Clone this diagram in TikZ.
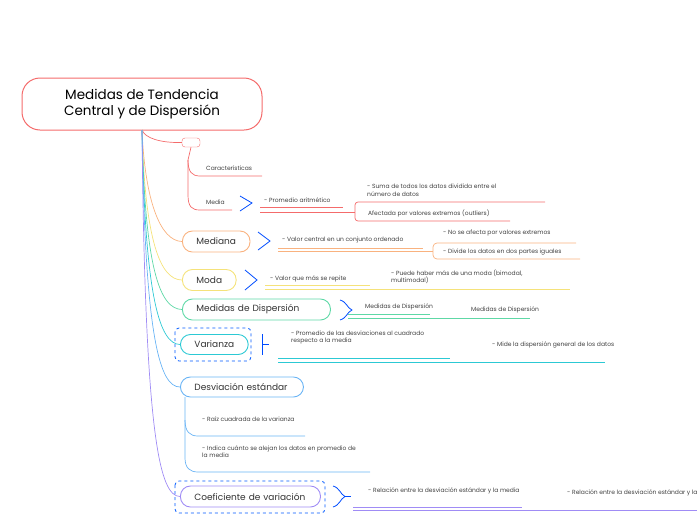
\documentclass[tikz,border=0pt]{standalone}
\usepackage{fontspec}
\setmainfont{Poppins}
\begin{document}
\begin{tikzpicture}[x=1pt,y=-1pt,
  topic/.style={draw=#1,line width=0.9pt,rounded corners=10pt,minimum height=21pt,anchor=west,inner xsep=14pt,font=\fontsize{9}{10}\selectfont,text=black!80},
  sm/.style={anchor=west,inner sep=0pt,font=\fontsize{6}{7.5}\selectfont,text=black!75,align=left},
  ln/.style={draw=#1,line width=0.7pt},
  bl/.style={draw=blue!70!cyan,line width=0.8pt},
  dsh/.style={draw=blue!65!cyan,dashed,line width=0.8pt,rounded corners=4pt}]
\definecolor{cr}{HTML}{F46B6B}\definecolor{co}{HTML}{F9B27F}\definecolor{cy}{HTML}{F5E27A}
\definecolor{cg}{HTML}{5ED8A6}\definecolor{cc}{HTML}{2CC9D4}\definecolor{cb}{HTML}{6AB4F5}\definecolor{cp}{HTML}{A08CF5}
\useasboundingbox (0,0) rectangle (697,520);
\node[draw=cr,line width=1pt,rounded corners=18pt,minimum width=240pt,minimum height=52pt,align=center,font=\fontsize{13.5}{16.5}\selectfont] (root) at (142,104) {Medidas de Tendencia\\Central y de Dispersión};
\coordinate (o) at (142,130);
% red branch
\node[draw=cr,rounded corners=3pt,minimum width=18pt,minimum height=9pt,inner sep=0pt] (e) at (191,142.5) {};
\draw[ln=cr] (o) .. controls (145,138) and (160,143) .. (e.west);
\node[sm] (car) at (206,168) {Características};
\node[sm] (med) at (206,202) {Media};
\draw[ln=cr] (e.south) -- (188,160) .. controls (188,172) and (192,176) .. (200,176) -- (262,176);
\draw[ln=cr] (188,160) -- (188,195) .. controls (188,207) and (192,210) .. (200,210) -- (232,210);
\draw[bl] (240,196) -- (252,203) -- (240,211);
\node[sm] (pa) at (264,200) {- Promedio aritmético};
\draw[ln=cr] (260,207) -- (343,207) (260,212) -- (355,212);
\draw[ln=cr,rounded corners=3pt] (545,202) -- (355,202) -- (355,221) -- (510,221);
\node[sm] (suma) at (367,190) {- Suma de todos los datos dividida entre el\\número de datos};
\node[sm] (afe) at (368,213) {Afectada por valores extremos (outliers)};
% Mediana
\node[topic=co] (mdn) at (182,241.5) {Mediana};
\draw[ln=co] (o) .. controls (145,200) and (160,241) .. (mdn.west);
\draw[bl] (258,232) -- (270,241) -- (258,250);
\node[sm] (vc) at (282,240) {- Valor central en un conjunto ordenado};
\draw[ln=co] (278,248) -- (423,248) (278,251) -- (433,251);
\draw[ln=co,rounded corners=4pt] (576,243) -- (433,243) -- (433,259) -- (580,259);
\node[sm] (ns) at (443,233) {- No se afecta por valores extremos};
\node[sm] (dv) at (443,252) {- Divide los datos en dos partes iguales};
% Moda
\node[topic=cy] (moda) at (182,280) {Moda};
\draw[ln=cy] (o) .. controls (145,240) and (160,280) .. (moda.west);
\draw[bl] (245,270) -- (257,280) -- (245,290);
\node[sm] (vq) at (270,279) {- Valor que más se repite};
\draw[ln=cy] (265,285) -- (370,285) (265,289) -- (570,289);
\node[sm] (ph) at (391,277) {- Puede haber más de una moda (bimodal,\\multimodal)};
% Medidas de Dispersion
\node[topic=cg,minimum width=148pt,align=left,text width=120pt] (mdd) at (182,309.5) {Medidas de Dispersión};
\draw[ln=cg] (o) .. controls (145,270) and (160,309) .. (mdd.west);
\draw[bl] (340,300) .. controls (347,302) and (347,308) .. (352,310) .. controls (347,312) and (347,318) .. (340,320);
\node[sm] (md1) at (365,307) {Medidas de Dispersión};
\draw[ln=cg] (348,314) -- (430,314) (348,318) -- (530,318);
\node[sm] (md2) at (471,310) {Medidas de Dispersión};
% Varianza
\draw[dsh] (175,328) rectangle (251,361);
\node[topic=cc,minimum height=20pt,minimum width=64pt] (var) at (180,344.5) {Varianza};
\draw[ln=cc] (o) .. controls (145,300) and (160,344) .. (var.west);
\draw[bl] (262,334) -- (262,355) (262,344.5) -- (269,344.5);
\node[sm] (pd) at (291,337.5) {- Promedio de las desviaciones al cuadrado\\respecto a la media};
\draw[ln=cc] (278,358) -- (450,358) (278,362) -- (605,362);
\node[sm] (mi) at (492,345) {- Mide la dispersión general de los datos};
% Desviacion
\node[topic=cb,minimum width=120pt,minimum height=20pt,align=left,text width=95pt] (des) at (180,387) {Desviación estándar};
\draw[ln=cb] (o) .. controls (145,340) and (160,387) .. (des.west);
\draw[ln=cb] (185,397) -- (185,420) .. controls (185,432) and (190,436) .. (198,436) -- (305,436);
\draw[ln=cb] (185,420) -- (185,458) .. controls (185,468) and (190,472) .. (198,472) -- (370,472);
\node[sm] (rc) at (202,419) {- Raíz cuadrada de la varianza};
\node[sm] (ic) at (202,451.5) {- Indica cuánto se alejan los datos en promedio de\\la media};
% Coeficiente
\draw[dsh] (175,481) rectangle (325,513);
\node[topic=cp,minimum width=140pt,minimum height=21pt,align=left,text width=112pt] (coe) at (180,496.5) {Coeficiente de variación};
\draw[ln=cp] (o) .. controls (145,440) and (160,496) .. (coe.west);
\draw[bl] (333,486) .. controls (340,488) and (340,494) .. (345,496.5) .. controls (340,499) and (340,505) .. (333,507);
\draw[bl] (345,496.5) -- (351,496.5);
\node[sm] (re1) at (368,491) {- Relación entre la desviación estándar y la media};
\draw[ln=cp] (353,507) -- (522,507) (353,510.5) -- (697,510.5);
\node[sm] (re2) at (567,493) {- Relación entre la desviación estándar y la media};
\end{tikzpicture}
\end{document}
